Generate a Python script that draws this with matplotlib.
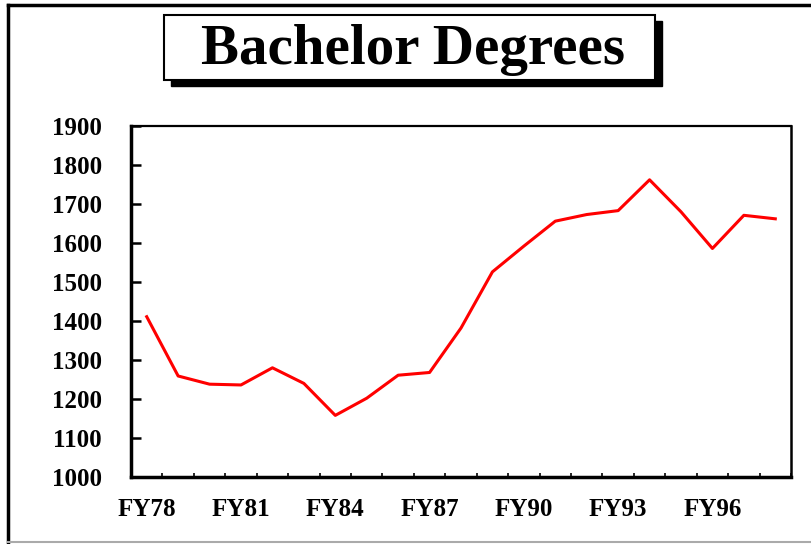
import numpy as np
import matplotlib.pyplot as plt
from matplotlib.patches import Rectangle

years = ['FY78', 'FY79', 'FY80', 'FY81', 'FY82', 'FY83', 'FY84', 'FY85', 'FY86', 'FY87',
         'FY88', 'FY89', 'FY90', 'FY91', 'FY92', 'FY93', 'FY94', 'FY95', 'FY96', 'FY97', 'FY98']
degrees = [1411, 1259, 1238, 1236, 1280, 1240, 1158, 1202, 1261, 1268,
           1382, 1526, 1592, 1656, 1673, 1683, 1762, 1680, 1586, 1671, 1662]
yticks = [1000, 1100, 1200, 1300, 1400, 1500, 1600, 1700, 1800, 1900]

W, H = 812, 544
fig = plt.figure(figsize=(W / 100, H / 100), dpi=100)
font = 'Liberation Serif'

# outer frame
fig.add_artist(plt.Line2D([8.5 / W, 8.5 / W], [2 / H, 1 - 5 / H], color='black', lw=2.5))
fig.add_artist(plt.Line2D([8.5 / W, 1], [1 - 5 / H, 1 - 5 / H], color='black', lw=2.5))
fig.add_artist(plt.Line2D([8.5 / W, 1], [2 / H, 2 / H], color='#aaaaaa', lw=1.5))

# title box with shadow
bx0, bx1, by0, by1 = 164, 655, 15, 80
fig.add_artist(Rectangle((bx0 / W + 7 / W, 1 - by1 / H - 6 / H), (bx1 - bx0) / W, (by1 - by0) / H,
                         transform=fig.transFigure, facecolor='black', edgecolor='black'))
fig.add_artist(Rectangle((bx0 / W, 1 - by1 / H), (bx1 - bx0) / W, (by1 - by0) / H,
                         transform=fig.transFigure, facecolor='white', edgecolor='black', lw=1.5))
fig.text(413 / W, 1 - 50 / H, 'Bachelor Degrees', ha='center', va='center',
         fontsize=41, fontweight='bold', family=font)

ax = fig.add_axes([131 / W, 1 - 477 / H, 660 / W, 351 / H])
x = np.arange(len(years))
ax.plot(x, degrees, color='red', lw=2.2)

ax.set_xlim(-0.5, len(years) - 0.5)
ax.set_ylim(1000, 1900)
ax.set_yticks(yticks)
ax.set_yticklabels([str(v) for v in yticks], family=font, fontweight='bold', fontsize=18)
ax.set_xticks(x[::3])
ax.set_xticklabels(years[::3], family=font, fontweight='bold', fontsize=18)
ax.set_xticks(np.arange(-0.5, len(years)), minor=True)

ax.tick_params(axis='y', direction='in', length=7, width=1.8, pad=21, right=False)
ax.tick_params(axis='x', which='major', length=0, pad=15)
ax.tick_params(axis='x', which='minor', direction='in', length=3, width=1.2)

ax.spines['left'].set_linewidth(2.5)
ax.spines['bottom'].set_linewidth(2.5)
ax.spines['top'].set_linewidth(1.6)
ax.spines['right'].set_linewidth(1.8)

fig.savefig('out.png', dpi=100)
